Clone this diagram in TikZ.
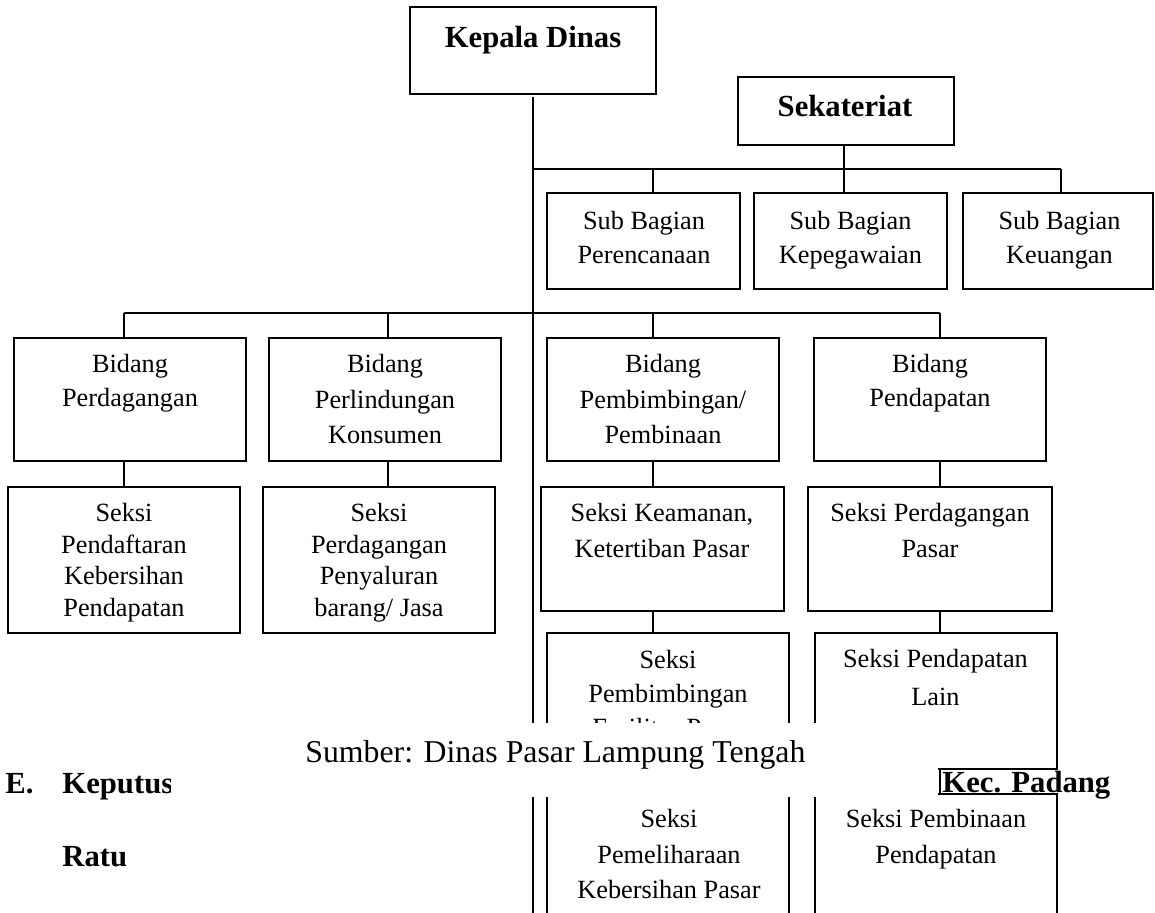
\documentclass[tikz,border=0pt]{standalone}
\usepackage{fontspec}
\setmainfont{Liberation Serif}
\begin{document}
\begin{tikzpicture}[x=0.4563pt,y=-0.4563pt,
  box/.style={draw,line width=0.9pt,inner sep=0pt,outer sep=0pt},
  sz/.style 2 args={minimum width=#1*0.4563pt,minimum height=#2*0.4563pt},
  ln/.style={line width=0.7pt},
  txt/.style={anchor=base,align=flush center,inner sep=0pt,text width=140pt,font=\fontsize{12pt}{15.5pt}\selectfont},
  head/.style={anchor=base,inner sep=0pt,font=\bfseries\fontsize{14pt}{16pt}\selectfont},
]
\useasboundingbox (0,0) rectangle (1155,913);
\clip (0,0) rectangle (1155,913);

% top level
\node[box,sz={246}{87}] (kd) at (533,50.5) {};
\node[head] (kdt) at (533,48) {Kepala Dinas};
\node[box,sz={216}{68}] (sk) at (846,111) {};
\node[head] (skt) at (845,117) {Sekateriat};

% sub bagian
\node[box,sz={193}{96}] (sb1) at (643.5,241) {};
\node[txt] (sb1t) at (644,230) {Sub Bagian\\Perencanaan};
\node[box,sz={193}{96}] (sb2) at (850.5,241) {};
\node[txt] (sb2t) at (850.5,230) {Sub Bagian\\Kepegawaian};
\node[box,sz={190}{96}] (sb3) at (1058,241) {};
\node[txt] (sb3t) at (1059.5,230) {Sub Bagian\\Keuangan};

% bidang
\node[box,sz={232}{123}] (b1) at (130,399.5) {};
\node[txt] (b1t) at (130,373) {Bidang\\Perdagangan};
\node[box,sz={232}{123}] (b2) at (385,399.5) {};
\node[txt,font=\fontsize{12pt}{16pt}\selectfont] (b2t) at (385,373) {Bidang\\Perlindungan\\Konsumen};
\node[box,sz={232}{123}] (b3) at (663,399.5) {};
\node[txt,font=\fontsize{12pt}{16pt}\selectfont] (b3t) at (663,373) {Bidang\\Pembimbingan/\\Pembinaan};
\node[box,sz={232}{123}] (b4) at (930,399.5) {};
\node[txt] (b4t) at (930,373) {Bidang\\Pendapatan};

% seksi row 1
\node[box,sz={232}{146}] (s1) at (124,560) {};
\node[txt,font=\fontsize{12pt}{14.3pt}\selectfont] (s1t) at (124,522) {Seksi\\Pendaftaran\\Kebersihan\\Pendapatan};
\node[box,sz={232}{146}] (s2) at (379,560) {};
\node[txt,font=\fontsize{12pt}{14.3pt}\selectfont] (s2t) at (379,522) {Seksi\\Perdagangan\\Penyaluran\\barang/ Jasa};
\node[box,sz={243}{124}] (s3) at (662.5,549) {};
\node[txt,font=\fontsize{12pt}{16pt}\selectfont] (s3t) at (662,522) {Seksi Keamanan,\\Ketertiban Pasar};
\node[box,sz={244}{124}] (s4) at (930,549) {};
\node[txt,font=\fontsize{12pt}{16pt}\selectfont] (s4t) at (930,522) {Seksi Perdagangan\\Pasar};

% seksi row 2
\node[box,sz={242}{127}] (r3) at (668,696.5) {};
\node[txt] (r3t) at (668,669) {Seksi\\Pembimbingan\\Fasilitas Pasar};
\node[box,sz={242}{136}] (r4) at (936,701) {};
\node[txt,font=\fontsize{12pt}{16.9pt}\selectfont] (r4t) at (935.5,668) {Seksi Pendapatan\\Lain};

% seksi row 3
\node[box,sz={242}{218}] (q3) at (668,891) {};
\node[txt,font=\fontsize{12pt}{16pt}\selectfont] (q3t) at (669,828) {Seksi\\Pemeliharaan\\Kebersihan Pasar};
\node[box,sz={242}{206}] (q4) at (936,897) {};
\node[txt,font=\fontsize{12pt}{16.4pt}\selectfont] (q4t) at (936,828) {Seksi Pembinaan\\Pendapatan};

% bus coordinates
\coordinate (ha) at (533,169);
\coordinate (hb) at (1061,169);
\coordinate (xa) at (653,169);
\coordinate (xb) at (844,169);
\coordinate (ka) at (124,313);
\coordinate (kb) at (388,313);
\coordinate (kc) at (653,313);
\coordinate (kd4) at (940,313);
\coordinate (trunkend) at (533,1000);

% trunk and buses
\draw[ln] ([yshift=-1.4pt]kd.south) -- (trunkend);
\draw[ln] (ha) -- (hb);
\draw[ln] (xa) -- (sb1.north -| xa);
\draw[ln] (sk.south -| xb) -- (sb2.north -| xb);
\draw[ln] (hb) -- (sb3.north -| hb);
\draw[ln] (ka) -- (kd4);

% drops to bidang and seksi
\draw[ln] (ka) -- (b1.north -| ka);
\draw[ln] (b1.south -| ka) -- (s1.north -| ka);
\draw[ln] (kb) -- (b2.north -| kb);
\draw[ln] (b2.south -| kb) -- (s2.north -| kb);
\draw[ln] (kc) -- (b3.north -| kc);
\draw[ln] (b3.south -| kc) -- (s3.north -| kc);
\draw[ln] (s3.south -| kc) -- (r3.north -| kc);
\draw[ln] (r3.south -| kc) -- (q3.north -| kc);
\draw[ln] (kd4) -- (b4.north -| kd4);
\draw[ln] (b4.south -| kd4) -- (s4.north -| kd4);
\draw[ln] (s4.south -| kd4) -- (r4.north -| kd4);
\draw[ln] (r4.south -| kd4) -- (q4.north -| kd4);

% overlapping page text
\node[head,anchor=base west] (he) at (5,794) {E.};
\node[head,anchor=base west] (hk) at (62,794) {Keputus};
\fill[white] (171,723) rectangle (938,797);
\node[anchor=base west,inner sep=0pt,font=\fontsize{14.5pt}{17pt}\selectfont] (src) at (305,763) {Sumber: Dinas Pasar Lampung Tengah};
\fill[white] (943,771) rectangle (1112,792.6);
\node[head,anchor=base west] (kec) at (942,793) {Kec. Padang};
\node[head,anchor=base west] (ratu) at (62,867) {Ratu};
\end{tikzpicture}
\end{document}
